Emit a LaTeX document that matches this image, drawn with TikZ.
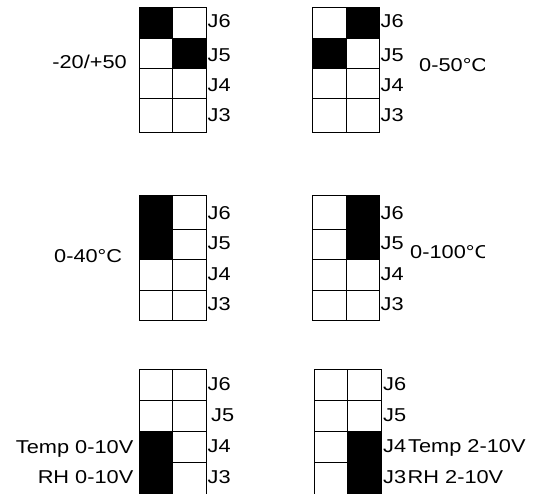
\documentclass[tikz,border=0pt]{standalone}
\usepackage{fontspec}
\setmainfont[FakeStretch=1.17]{Liberation Sans}
\tikzset{
  gridline/.style={draw=black, line width=0.8pt},
  blk/.style={fill=black},
  lbl/.style={inner sep=0pt, font=\fontsize{18.6}{20}\selectfont},
}
% #1 xa, #2 xb, #3 xc, #4..#8 rows
\newcommand\jgrid[8]{%
  \draw[gridline] (#1,#4) rectangle (#3,#8);
  \draw[gridline] (#2,#4) -- (#2,#8);
  \draw[gridline] (#1,#5) -- (#3,#5);
  \draw[gridline] (#1,#6) -- (#3,#6);
  \draw[gridline] (#1,#7) -- (#3,#7);
}
\begin{document}
\begin{tikzpicture}[x=1pt,y=-1pt]
\useasboundingbox (0,0) rectangle (534,493);
\fill[white] (0,0) rectangle (534,493);

% ---------- panel 1 ----------
\fill[blk] (139,7) rectangle (172.5,38.3);
\fill[blk] (172.5,38.3) rectangle (206,68.3);
\jgrid{139}{172.5}{206}{7}{38.3}{68.3}{98.7}{132}
\node[lbl, anchor=base west] (a6) at (207.5,27.4) {J6};
\node[lbl, anchor=base west] (a5) at (207.5,61.7) {J5};
\node[lbl, anchor=base west] (a4) at (207.5,91.7) {J4};
\node[lbl, anchor=base west] (a3) at (207.5,121.7) {J3};
\node[lbl, anchor=base east] (aL) at (127,68.4) {-20/+50};

% ---------- panel 2 ----------
\fill[blk] (346,7) rectangle (379,38.3);
\fill[blk] (312.3,38.3) rectangle (346,68.3);
\jgrid{312.3}{346}{379}{7}{38.3}{68.3}{98.7}{132}
\node[lbl, anchor=base west] (b6) at (380.5,27.4) {J6};
\node[lbl, anchor=base west] (b5) at (380.5,61.7) {J5};
\node[lbl, anchor=base west] (b4) at (380.5,91.7) {J4};
\node[lbl, anchor=base west] (b3) at (380.5,121.7) {J3};
\begin{scope}
  \clip (0,0) rectangle (484,493);
  \node[lbl, anchor=base west] (bL) at (419,71.7) {0-50°C};
\end{scope}

% ---------- panel 3 ----------
\fill[blk] (139,195.7) rectangle (172.5,259.3);
\jgrid{139}{172.5}{206}{195.7}{229.3}{259.3}{290}{320}
\node[lbl, anchor=base west] (c6) at (207.5,219.7) {J6};
\node[lbl, anchor=base west] (c5) at (207.5,249.7) {J5};
\node[lbl, anchor=base west] (c4) at (207.5,280.7) {J4};
\node[lbl, anchor=base west] (c3) at (207.5,310.7) {J3};
\node[lbl, anchor=base west] (cL) at (54,262.7) {0-40°C};

% ---------- panel 4 ----------
\fill[blk] (346,195.7) rectangle (379,259.3);
\jgrid{312.3}{346}{379}{195.7}{229.3}{259.3}{290}{320}
\node[lbl, anchor=base west] (d6) at (380.5,219.7) {J6};
\node[lbl, anchor=base west] (d5) at (380.5,249.7) {J5};
\node[lbl, anchor=base west] (d4) at (380.5,280.7) {J4};
\node[lbl, anchor=base west] (d3) at (380.5,310.7) {J3};
\begin{scope}
  \clip (0,0) rectangle (484,493);
  \node[lbl, anchor=base west] (dL) at (410,258.7) {0-100°C};
\end{scope}

% ---------- panel 5 ----------
\fill[blk] (139,431) rectangle (172.3,494);
\jgrid{139}{172.3}{206}{369.3}{400.7}{431}{462.3}{494}
\node[lbl, anchor=base west] (e6) at (207.5,390) {J6};
\node[lbl, anchor=base west] (e5) at (211,421.7) {J5};
\node[lbl, anchor=base west] (e4) at (207.5,452.7) {J4};
\node[lbl, anchor=base west] (e3) at (207.5,483.4) {J3};
\node[lbl, anchor=base east] (eT) at (133.5,453.4) {Temp 0-10V};
\node[lbl, anchor=base east] (eR) at (133.5,483.4) {RH 0-10V};

% ---------- panel 6 ----------
\fill[blk] (347.7,431) rectangle (381,494);
\jgrid{314.3}{347.7}{381}{369.3}{400.7}{431}{462.3}{494}
\node[lbl, anchor=base west] (f6) at (383,390) {J6};
\node[lbl, anchor=base west] (f5) at (383,421.7) {J5};
\node[lbl, anchor=base west] (f4) at (383,452.7) {J4};
\node[lbl, anchor=base west] (f3) at (383,483.4) {J3};
\begin{scope}
  \clip (0,0) rectangle (527,493);
  \node[lbl, anchor=base west] (fT) at (408,452.7) {Temp 2-10V};
\end{scope}
\node[lbl, anchor=base west] (fR) at (407.5,483.4) {RH 2-10V};
\end{tikzpicture}
\end{document}
